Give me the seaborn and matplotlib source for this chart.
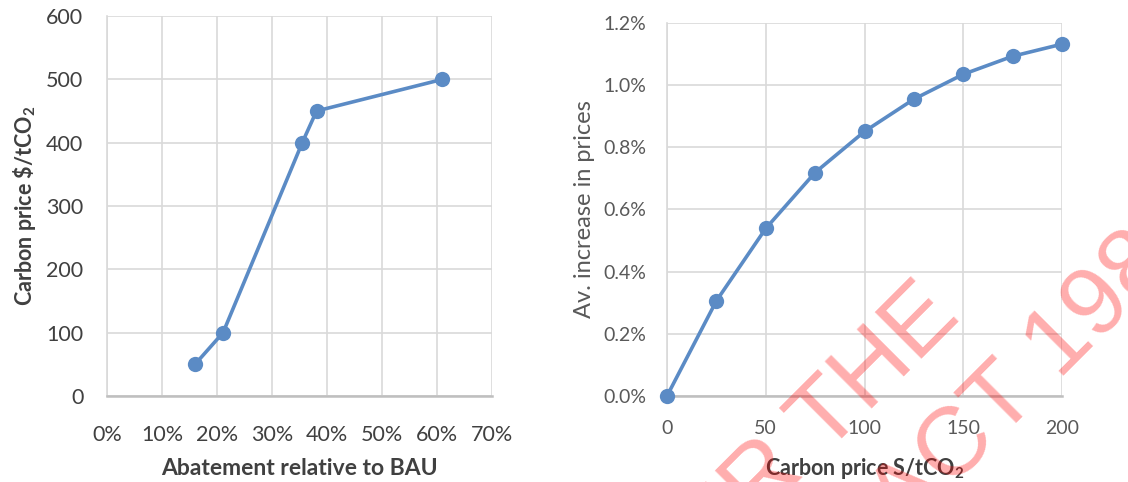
import matplotlib
matplotlib.use("Agg")
import matplotlib.pyplot as plt
from matplotlib.ticker import FuncFormatter, MultipleLocator
import seaborn as sns
import pandas as pd

# Left panel: abatement vs carbon price
abatement_pct = [16.0, 21.1, 35.5, 38.1, 61.0]
carbon_price_left = [50, 100, 400, 450, 500]

# Right panel: carbon price vs average increase in prices
carbon_price_right = [0, 25, 50, 75, 100, 125, 150, 175, 200]
price_increase_pct = [0.0, 0.306, 0.539, 0.719, 0.851, 0.955, 1.035, 1.093, 1.132]

left_df = pd.DataFrame({"abatement": abatement_pct, "price": carbon_price_left})
right_df = pd.DataFrame({"price": carbon_price_right, "increase": price_increase_pct})

sns.set_style("white")
plt.rcParams["font.family"] = ["Lato", "DejaVu Sans"]
plt.rcParams["mathtext.fontset"] = "custom"
plt.rcParams["mathtext.rm"] = "Lato"
plt.rcParams["mathtext.bf"] = "Lato:bold"

LINE = "#5B8BC5"
GRID = "#D9D9D9"
AXIS = "#BFBFBF"

fig = plt.figure(figsize=(11.28, 4.82), dpi=100)
ax1 = fig.add_axes([107 / 1128, 1 - 396 / 482, 385 / 1128, 380 / 482])
ax2 = fig.add_axes([667 / 1128, 1 - 396 / 482, 395 / 1128, 373 / 482])


def style_axes(ax, tick_color, xpad, ypad, size):
    ax.grid(True, color=GRID, linewidth=1.2)
    ax.set_axisbelow(True)
    for side in ("top", "right"):
        ax.spines[side].set_visible(False)
    ax.spines["left"].set_color(GRID)
    ax.spines["left"].set_linewidth(1.2)
    ax.spines["bottom"].set_color(AXIS)
    ax.spines["bottom"].set_linewidth(1.8)
    ax.tick_params(axis="x", length=0, pad=xpad, labelsize=size, colors=tick_color)
    ax.tick_params(axis="y", length=0, pad=ypad, labelsize=size, colors=tick_color)


# Left chart
sns.lineplot(data=left_df, x="abatement", y="price", ax=ax1, color=LINE,
             linewidth=2.6, marker="o", markersize=11, markeredgewidth=0,
             clip_on=False, zorder=3)
ax1.set_xlim(0, 70)
ax1.set_ylim(0, 600)
ax1.xaxis.set_major_locator(MultipleLocator(10))
ax1.yaxis.set_major_locator(MultipleLocator(100))
ax1.xaxis.set_major_formatter(FuncFormatter(lambda v, p: f"{v:.0f}%"))
style_axes(ax1, "#404040", 21, 17, 15.5)
ax1.set_xlabel("Abatement relative to BAU", fontsize=16.5, fontweight="bold",
               color="#404040", labelpad=9)
ax1.set_ylabel("Carbon price \\$/tCO$_\\mathbf{2}$", fontsize=15.5, fontweight="bold",
               color="#404040", labelpad=6)

# Right chart
sns.lineplot(data=right_df, x="price", y="increase", ax=ax2, color=LINE,
             linewidth=2.6, marker="o", markersize=11, markeredgewidth=0,
             clip_on=False, zorder=3)
ax2.set_xlim(0, 200)
ax2.set_ylim(0, 1.2)
ax2.xaxis.set_major_locator(MultipleLocator(50))
ax2.yaxis.set_major_locator(MultipleLocator(0.2))
ax2.yaxis.set_major_formatter(FuncFormatter(lambda v, p: f"{v:.1f}%"))
style_axes(ax2, "#595959", 17, 15, 14)
ax2.set_xlabel("Carbon price S/tCO$_\\mathbf{2}$", fontsize=15.5, fontweight="bold",
               color="#404040", labelpad=14)
ax2.set_ylabel("Av. increase in prices", fontsize=17, color="#595959", labelpad=6)

# Release watermark
wm = dict(fontsize=70, color="#FF0000", alpha=0.32, rotation=45,
          rotation_mode="anchor", family="Liberation Sans", zorder=10)
fig.text(962 / 1128, 1 - 318 / 482, "RELEASED UNDER THE", ha="right", va="baseline", **wm)
fig.text(1212 / 1128, 1 - 228 / 482, "OFFICIAL INFORMATION ACT 1982", ha="right",
         va="baseline", **wm)

fig.savefig("out.png", dpi=100)
